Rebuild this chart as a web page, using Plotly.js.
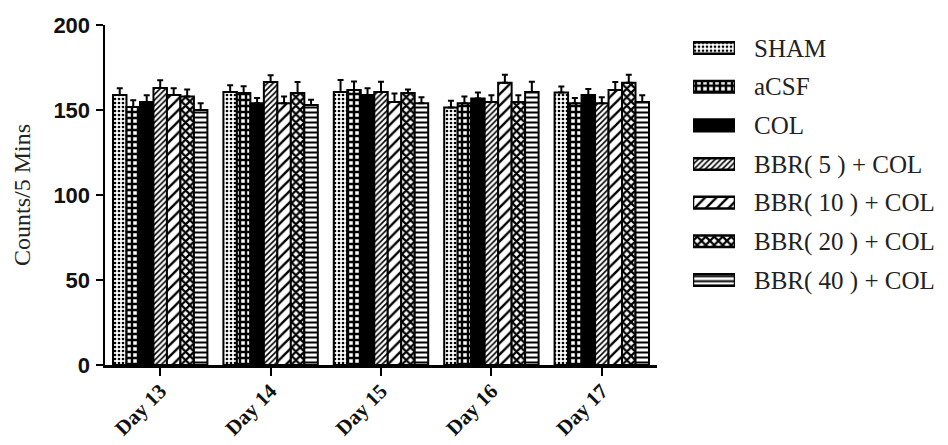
<!DOCTYPE html>
<html>
<head>
<meta charset="utf-8">
<script src="https://cdn.plot.ly/plotly-3.0.1.min.js"></script>
<style>html,body{margin:0;padding:0;background:#fff;}</style>
</head>
<body>
<div id="chart" style="width:948px;height:445px;"></div>
<script>
// ---- data ----
const days = ["Day 13", "Day 14", "Day 15", "Day 16", "Day 17"];
const seriesNames = ["SHAM", "aCSF", "COL", "BBR( 5 ) + COL", "BBR( 10 ) + COL", "BBR( 20 ) + COL", "BBR( 40 ) + COL"];
const sham   = [158.8, 160.6, 160.6, 151.5, 160.3];
const acsf   = [151.8, 160.0, 161.8, 154.0, 154.0];
const col    = [154.7, 154.0, 158.8, 156.8, 158.8];
const bbr5   = [163.0, 166.5, 160.6, 154.7, 154.0];
const bbr10  = [158.8, 154.0, 154.7, 166.0, 161.8];
const bbr20  = [158.0, 160.0, 160.0, 154.7, 166.0];
const bbr40  = [150.0, 153.0, 154.0, 160.6, 154.7];
const shamErr  = [4.0, 4.0, 7.0, 4.0, 3.5];
const acsfErr  = [4.0, 4.0, 5.0, 4.0, 3.0];
const colErr   = [4.0, 3.0, 4.0, 3.5, 3.5];
const bbr5Err  = [4.5, 4.0, 6.0, 4.0, 3.5];
const bbr10Err = [4.0, 4.0, 5.0, 4.7, 4.7];
const bbr20Err = [4.0, 6.5, 2.0, 4.0, 4.7];
const bbr40Err = [4.0, 3.0, 3.5, 6.0, 4.0];
const legendValue = [1];

const values = [sham, acsf, col, bbr5, bbr10, bbr20, bbr40];
const errors = [shamErr, acsfErr, colErr, bbr5Err, bbr10Err, bbr20Err, bbr40Err];

// ---- styles ----
const patterns = [
  {shape: ".", size: 4, solidity: 0.35, fgcolor: "#000", bgcolor: "#fff"},
  {shape: "+", size: 6, solidity: 0.65, fgcolor: "#000", bgcolor: "#fff"},
  {shape: "", fgcolor: "#000", bgcolor: "#000"},
  {shape: "/", size: 4, solidity: 0.4, fgcolor: "#000", bgcolor: "#fff"},
  {shape: "/", size: 8, solidity: 0.3, fgcolor: "#000", bgcolor: "#fff"},
  {shape: "x", size: 6, solidity: 0.6, fgcolor: "#000", bgcolor: "#fff"},
  {shape: "-", size: 5, solidity: 0.4, fgcolor: "#000", bgcolor: "#fff"}
];
const fills = ["#fff", "#fff", "#000", "#fff", "#fff", "#fff", "#fff"];

const traces = seriesNames.map((name, i) => ({
  type: "bar",
  name: name,
  x: days,
  y: values[i],
  xaxis: "x", yaxis: "y",
  marker: {color: fills[i], line: {color: "#000", width: 2}, pattern: patterns[i]},
  error_y: {type: "data", array: errors[i], arrayminus: errors[i].map(() => 0), symmetric: false,
            color: "#000", thickness: 2, width: 3},
  showlegend: false,
  hoverinfo: "skip"
}));

// legend swatches drawn as horizontal bars on a small side axis
seriesNames.forEach((name, i) => {
  traces.push({
    type: "bar",
    orientation: "h",
    x: legendValue,
    y: [name],
    xaxis: "x2", yaxis: "y2",
    width: 0.3, offset: -0.15,
    marker: {color: fills[i], line: {color: "#000", width: 2.5}, pattern: patterns[i]},
    showlegend: false,
    hoverinfo: "skip"
  });
});

const W = 948, H = 445;
const layout = {
  width: W, height: H,
  margin: {l: 0, r: 0, t: 0, b: 0},
  paper_bgcolor: "#fff", plot_bgcolor: "#fff",
  barmode: "group",
  bargap: 0.145,
  bargroupgap: 0,
  showlegend: false,
  xaxis: {
    domain: [105 / W, 657 / W],
    type: "category",
    range: [-0.5, 4.5],
    showline: true, linecolor: "#000", linewidth: 2.5,
    ticks: "outside", ticklen: 8, tickwidth: 2, tickcolor: "#000",
    tickangle: -45,
    ticklabelstandoff: -5,
    tickfont: {family: "Liberation Serif", size: 21, color: "#111", weight: "bold"},
    showgrid: false, zeroline: false, fixedrange: true
  },
  yaxis: {
    domain: [1 - 365 / H, 1 - 25 / H],
    range: [0, 200],
    dtick: 50,
    showline: true, linecolor: "#000", linewidth: 2.5,
    ticks: "outside", ticklen: 7, tickwidth: 2, tickcolor: "#000",
    ticklabelstandoff: 1,
    tickfont: {family: "Liberation Sans", size: 22, color: "#111", weight: "bold"},
    title: {text: "Counts/5 Mins", font: {family: "Liberation Serif", size: 24, color: "#222"}, standoff: 16},
    showgrid: false, zeroline: false, fixedrange: true
  },
  xaxis2: {
    domain: [693 / W, 735 / W],
    anchor: "y2",
    range: [0, 1],
    visible: false, fixedrange: true
  },
  yaxis2: {
    domain: [1 - 299.3 / H, 1 - 28.7 / H],
    anchor: "x2",
    side: "right",
    type: "category",
    categoryorder: "array",
    categoryarray: seriesNames,
    autorange: "reversed",
    showline: false, ticks: "", showgrid: false, zeroline: false,
    ticklabelstandoff: 18,
    tickfont: {family: "Liberation Serif", size: 25, color: "#222"},
    fixedrange: true
  }
};

Plotly.newPlot("chart", traces, layout, {displayModeBar: false, staticPlot: true});
</script>
</body>
</html>
